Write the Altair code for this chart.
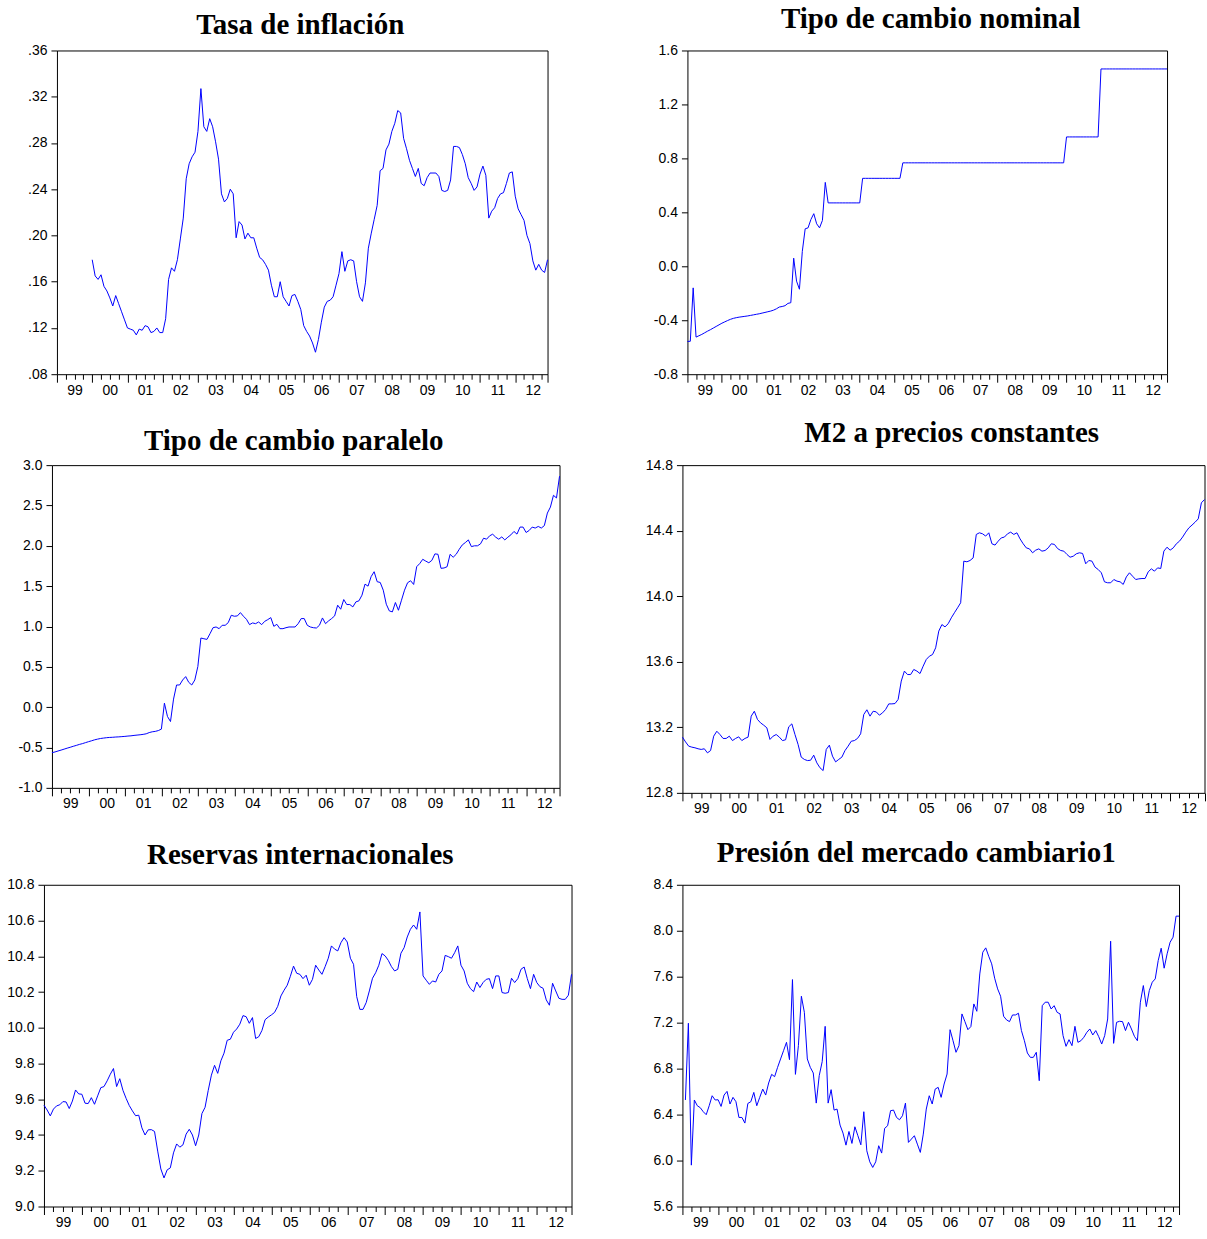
import altair as alt
import pandas as pd

# ---------------------------------------------------------------------------
# Monthly series (Jan 1999 = month 0, Dec 2012 = month 167)
# ---------------------------------------------------------------------------
FIRST_YEAR = 1999
N_MONTHS = 168
X_END = FIRST_YEAR + (N_MONTHS - 1) / 12

# Tasa de inflación, Jan 2000 - Dec 2012
inflacion = [
    0.179, 0.165, 0.162, 0.166, 0.156, 0.152, 0.146, 0.139, 0.148, 0.141, 0.134, 0.127,
    0.120, 0.119, 0.118, 0.114, 0.119, 0.118, 0.122, 0.121, 0.116, 0.117, 0.120, 0.116,
    0.116, 0.128, 0.162, 0.172, 0.169, 0.179, 0.197, 0.215, 0.249, 0.262, 0.268, 0.272,
    0.290, 0.327, 0.294, 0.290, 0.301, 0.294, 0.281, 0.266, 0.236, 0.229, 0.232, 0.240,
    0.236, 0.198, 0.212, 0.209, 0.197, 0.202, 0.198, 0.198, 0.189, 0.181, 0.179, 0.175,
    0.170, 0.157, 0.147, 0.147, 0.160, 0.147, 0.143, 0.139, 0.148, 0.149, 0.143, 0.136,
    0.122, 0.117, 0.113, 0.107, 0.099, 0.110, 0.125, 0.138, 0.143, 0.144, 0.147, 0.157,
    0.167, 0.186, 0.169, 0.178, 0.179, 0.178, 0.160, 0.147, 0.143, 0.159, 0.189, 0.202,
    0.214, 0.226, 0.256, 0.258, 0.274, 0.279, 0.290, 0.297, 0.308, 0.306, 0.284, 0.275,
    0.265, 0.258, 0.251, 0.258, 0.245, 0.243, 0.250, 0.254, 0.254, 0.254, 0.251, 0.239,
    0.238, 0.239, 0.248, 0.277, 0.277, 0.276, 0.270, 0.262, 0.250, 0.245, 0.239, 0.242,
    0.253, 0.260, 0.252, 0.215, 0.221, 0.224, 0.232, 0.236, 0.237, 0.245, 0.254, 0.255,
    0.234, 0.223, 0.218, 0.213, 0.200, 0.193, 0.178, 0.170, 0.175, 0.170, 0.168, 0.179,
]

# Tipo de cambio nominal (log), Jan 1999 - Dec 2012
nominal = [
    -0.557, -0.556, -0.160, -0.525, -0.515, -0.505, -0.493, -0.481, -0.470, -0.458, -0.446, -0.434,
    -0.422, -0.412, -0.402, -0.393, -0.386, -0.381, -0.377, -0.374, -0.371, -0.368, -0.364, -0.360,
    -0.356, -0.352, -0.347, -0.342, -0.337, -0.332, -0.325, -0.315, -0.302, -0.298, -0.292, -0.275,
    -0.270, 0.060, -0.110, -0.170, 0.110, 0.278, 0.285, 0.347, 0.390, 0.315, 0.285, 0.340,
    0.622, 0.470, 0.470, 0.470, 0.470, 0.470, 0.470, 0.470, 0.470, 0.470, 0.470, 0.470,
    0.470, 0.652, 0.652, 0.652, 0.652, 0.652, 0.652, 0.652, 0.652, 0.652, 0.652, 0.652,
    0.652, 0.652, 0.652, 0.767, 0.767, 0.767, 0.767, 0.767, 0.767, 0.767, 0.767, 0.767,
    0.767, 0.767, 0.767, 0.767, 0.767, 0.767, 0.767, 0.767, 0.767, 0.767, 0.767, 0.767,
    0.767, 0.767, 0.767, 0.767, 0.767, 0.767, 0.767, 0.767, 0.767, 0.767, 0.767, 0.767,
    0.767, 0.767, 0.767, 0.767, 0.767, 0.767, 0.767, 0.767, 0.767, 0.767, 0.767, 0.767,
    0.767, 0.767, 0.767, 0.767, 0.767, 0.767, 0.767, 0.767, 0.767, 0.767, 0.767, 0.767,
    0.959, 0.959, 0.959, 0.959, 0.959, 0.959, 0.959, 0.959, 0.959, 0.959, 0.959, 0.959,
    1.463, 1.463, 1.463, 1.463, 1.463, 1.463, 1.463, 1.463, 1.463, 1.463, 1.463, 1.463,
    1.463, 1.463, 1.463, 1.463, 1.463, 1.463, 1.463, 1.463, 1.463, 1.463, 1.463, 1.463,
]

# Tipo de cambio paralelo (log), Jan 1999 - Dec 2012
paralelo = [
    -0.564, -0.555, -0.543, -0.532, -0.520, -0.508, -0.497, -0.485, -0.474, -0.462, -0.452, -0.440,
    -0.428, -0.417, -0.405, -0.396, -0.388, -0.383, -0.378, -0.375, -0.373, -0.370, -0.368, -0.365,
    -0.362, -0.358, -0.355, -0.350, -0.346, -0.342, -0.337, -0.330, -0.315, -0.305, -0.300, -0.290,
    -0.272, 0.050, -0.115, -0.178, 0.100, 0.275, 0.275, 0.337, 0.379, 0.308, 0.275, 0.337,
    0.504, 0.857, 0.848, 0.840, 0.911, 0.985, 0.994, 0.973, 1.015, 1.015, 1.048, 1.139,
    1.127, 1.131, 1.172, 1.127, 1.089, 1.023, 1.044, 1.035, 1.056, 1.023, 1.064, 1.085,
    1.110, 1.002, 1.027, 0.973, 0.973, 0.985, 0.994, 0.994, 0.994, 1.035, 1.098, 1.098,
    1.015, 0.994, 0.985, 0.981, 1.015, 1.106, 1.035, 1.069, 1.098, 1.131, 1.264, 1.214,
    1.334, 1.272, 1.272, 1.243, 1.305, 1.318, 1.388, 1.525, 1.500, 1.617, 1.679, 1.555,
    1.546, 1.450, 1.276, 1.193, 1.181, 1.297, 1.201, 1.326, 1.450, 1.542, 1.567, 1.521,
    1.741, 1.780, 1.833, 1.810, 1.790, 1.820, 1.900, 1.895, 1.721, 1.725, 1.741, 1.895,
    1.858, 1.895, 1.957, 2.011, 2.040, 2.073, 1.990, 2.000, 2.000, 2.024, 2.094, 2.082,
    2.124, 2.144, 2.107, 2.082, 2.110, 2.073, 2.107, 2.136, 2.178, 2.145, 2.232, 2.232,
    2.165, 2.190, 2.232, 2.220, 2.240, 2.220, 2.250, 2.406, 2.480, 2.626, 2.593, 2.863,
]

# M2 a precios constantes (log), Jan 1999 - Dec 2012
m2_real = [
    13.140, 13.111, 13.085, 13.079, 13.075, 13.069, 13.065, 13.069, 13.044, 13.058, 13.146, 13.176,
    13.156, 13.132, 13.132, 13.146, 13.119, 13.132, 13.142, 13.119, 13.132, 13.140, 13.268, 13.298,
    13.248, 13.227, 13.213, 13.197, 13.126, 13.146, 13.156, 13.140, 13.119, 13.124, 13.203, 13.221,
    13.156, 13.095, 13.018, 13.004, 12.997, 12.999, 13.030, 12.983, 12.953, 12.936, 13.065, 13.091,
    13.024, 12.989, 13.004, 13.018, 13.058, 13.085, 13.115, 13.119, 13.132, 13.160, 13.278, 13.307,
    13.268, 13.298, 13.294, 13.274, 13.288, 13.309, 13.343, 13.343, 13.345, 13.370, 13.482, 13.543,
    13.522, 13.522, 13.553, 13.543, 13.528, 13.573, 13.614, 13.634, 13.644, 13.685, 13.787, 13.827,
    13.813, 13.832, 13.868, 13.899, 13.929, 13.960, 14.214, 14.210, 14.218, 14.234, 14.377, 14.387,
    14.381, 14.367, 14.387, 14.320, 14.312, 14.336, 14.356, 14.361, 14.381, 14.391, 14.377, 14.387,
    14.350, 14.320, 14.295, 14.289, 14.265, 14.281, 14.289, 14.275, 14.279, 14.295, 14.320, 14.316,
    14.291, 14.279, 14.275, 14.255, 14.238, 14.244, 14.259, 14.265, 14.261, 14.198, 14.218, 14.214,
    14.177, 14.163, 14.143, 14.088, 14.082, 14.082, 14.102, 14.092, 14.088, 14.072, 14.118, 14.143,
    14.122, 14.102, 14.106, 14.108, 14.108, 14.149, 14.167, 14.153, 14.173, 14.169, 14.275, 14.299,
    14.281, 14.295, 14.320, 14.336, 14.361, 14.391, 14.417, 14.434, 14.452, 14.472, 14.570, 14.590,
]

# Reservas internacionales (log), Jan 1999 - Dec 2012
reservas = [
    9.567, 9.540, 9.507, 9.545, 9.563, 9.569, 9.587, 9.585, 9.548, 9.590, 9.652, 9.630,
    9.628, 9.578, 9.576, 9.609, 9.572, 9.619, 9.665, 9.671, 9.703, 9.740, 9.772, 9.671,
    9.715, 9.650, 9.605, 9.565, 9.535, 9.508, 9.511, 9.440, 9.400, 9.429, 9.430, 9.420,
    9.310, 9.210, 9.160, 9.205, 9.216, 9.300, 9.350, 9.332, 9.345, 9.405, 9.432, 9.400,
    9.340, 9.400, 9.520, 9.555, 9.650, 9.735, 9.790, 9.745, 9.815, 9.858, 9.930, 9.936,
    9.975, 9.993, 10.020, 10.068, 10.062, 10.025, 10.057, 9.940, 9.950, 9.985, 10.045, 10.060,
    10.072, 10.086, 10.120, 10.178, 10.210, 10.238, 10.288, 10.345, 10.305, 10.299, 10.275, 10.294,
    10.238, 10.271, 10.350, 10.323, 10.299, 10.342, 10.389, 10.458, 10.440, 10.430, 10.476, 10.504,
    10.480, 10.389, 10.355, 10.174, 10.103, 10.103, 10.141, 10.206, 10.277, 10.308, 10.350, 10.415,
    10.402, 10.377, 10.342, 10.318, 10.327, 10.417, 10.448, 10.508, 10.551, 10.575, 10.551, 10.648,
    10.290, 10.266, 10.243, 10.262, 10.256, 10.299, 10.318, 10.405, 10.398, 10.389, 10.420, 10.458,
    10.350, 10.318, 10.249, 10.219, 10.202, 10.256, 10.225, 10.253, 10.271, 10.275, 10.219, 10.290,
    10.290, 10.197, 10.193, 10.197, 10.277, 10.253, 10.275, 10.327, 10.340, 10.275, 10.219, 10.299,
    10.253, 10.230, 10.221, 10.156, 10.126, 10.249, 10.206, 10.165, 10.159, 10.159, 10.182, 10.299,
]

# Presión del mercado cambiario, Feb 1999 - Dec 2012
presion = [
    6.527, 7.195, 5.960, 6.527, 6.477, 6.460, 6.425, 6.399, 6.477, 6.564, 6.527,
    6.529, 6.471, 6.570, 6.602, 6.492, 6.550, 6.512, 6.375, 6.375, 6.326, 6.497, 6.512,
    6.593, 6.477, 6.550, 6.622, 6.570, 6.675, 6.750, 6.730, 6.811, 6.884, 6.956, 7.029,
    6.878, 7.575, 6.750, 7.000, 7.430, 7.290, 6.884, 6.811, 6.762, 6.500, 6.739, 6.861,
    7.168, 6.500, 6.617, 6.439, 6.448, 6.309, 6.239, 6.134, 6.253, 6.149, 6.294, 6.216,
    6.137, 6.425, 6.085, 5.989, 5.940, 5.989, 6.129, 6.065, 6.280, 6.303, 6.434, 6.439,
    6.375, 6.355, 6.390, 6.500, 6.158, 6.187, 6.216, 6.143, 6.071, 6.230, 6.448, 6.564,
    6.492, 6.622, 6.637, 6.550, 6.666, 6.753, 7.139, 7.043, 6.942, 7.000, 7.276, 7.209,
    7.139, 7.166, 7.363, 7.299, 7.624, 7.813, 7.851, 7.778, 7.712, 7.587, 7.494, 7.430,
    7.256, 7.224, 7.209, 7.267, 7.267, 7.282, 7.131, 7.043, 6.936, 6.898, 6.898, 6.942,
    6.695, 7.348, 7.378, 7.378, 7.319, 7.348, 7.290, 7.276, 7.087, 6.994, 7.052, 7.000,
    7.168, 7.029, 7.043, 7.073, 7.116, 7.145, 7.093, 7.131, 7.078, 7.014, 7.087, 7.232,
    7.909, 7.020, 7.203, 7.212, 7.209, 7.131, 7.203, 7.145, 7.081, 7.043, 7.378, 7.523,
    7.340, 7.479, 7.552, 7.581, 7.741, 7.848, 7.674, 7.799, 7.900, 7.944, 8.127, 8.127,
]

# Y-axis tick labels of every panel
ticks_inflacion = [0.08, 0.12, 0.16, 0.20, 0.24, 0.28, 0.32, 0.36]
ticks_nominal = [-0.8, -0.4, 0.0, 0.4, 0.8, 1.2, 1.6]
ticks_paralelo = [-1.0, -0.5, 0.0, 0.5, 1.0, 1.5, 2.0, 2.5, 3.0]
ticks_m2 = [12.8, 13.2, 13.6, 14.0, 14.4, 14.8]
ticks_reservas = [9.0, 9.2, 9.4, 9.6, 9.8, 10.0, 10.2, 10.4, 10.6, 10.8]
ticks_presion = [5.6, 6.0, 6.4, 6.8, 7.2, 7.6, 8.0, 8.4]

# Time axis: quarterly ticks (plus the closing one) and a year label in the
# middle of every year
QUARTERS = [FIRST_YEAR + q / 4 for q in range(56)] + [X_END]
MID_YEARS = [FIRST_YEAR + k + 0.5 for k in range(14)]

LINE_BLUE = "#0000FF"
SANS = "Liberation Sans, Arial, sans-serif"
SERIF = "Liberation Serif, Times New Roman, serif"
ONE_ROW = pd.DataFrame({"k": [0]})

LEFT_GUTTER = 40      # room kept for the y labels of the left-hand panels
LEFT_CELL_END = 597.8  # page x where the left-hand cells stop
MID_LINE = 600        # page x where the right-hand cells start
RIGHT_CELL_END = 1204
TOP_CELL = 6          # top of the first row of cells
ROW1_END, ROW2_END, ROW3_END = 412.4, 831.5, 1238


def monthly_frame(values, first_month):
    return pd.DataFrame({
        "t": [FIRST_YEAR + (first_month + i) / 12 for i in range(len(values))],
        "v": values,
    })


def panel(title, values, first_month, yticks, yfmt, strip_zero,
          left, top, width, height, cell, title_x, title_base):
    """One EViews-style panel; page positions are turned into offsets from
    the panel's plot origin."""
    df = monthly_frame(values, first_month)
    if strip_zero:
        ylab = f"replace(format(datum.value, '{yfmt}'), '0.', '.')"
    else:
        ylab = f"replace(format(datum.value, '{yfmt}'), '\u2212', '-')"

    x_scale = alt.Scale(domain=[FIRST_YEAR, X_END], nice=False, zero=False)
    y_enc = alt.Y(
        "v:Q",
        title=None,
        scale=alt.Scale(domain=[yticks[0], yticks[-1]], nice=False, zero=False),
        axis=alt.Axis(values=yticks, labelExpr=ylab, tickSize=6, labelPadding=4,
                      labelOverlap=False),
    )

    # the series, carrying the tick-only time axis
    line = alt.Chart(df).mark_line(color=LINE_BLUE, strokeWidth=1).encode(
        x=alt.X("t:Q", title=None, scale=x_scale,
                axis=alt.Axis(
                    orient="bottom", values=QUARTERS, labels=False,
                    tickSize={"condition": {"test": "datum.value % 1 === 0 || datum.value > 2012.9",
                                            "value": 8}, "value": 5},
                )),
        y=y_enc,
    )
    # same series, invisible, carrying the year labels
    year_labels = alt.Chart(df).mark_line(strokeOpacity=0).encode(
        x=alt.X("t:Q", title=None, scale=x_scale,
                axis=alt.Axis(
                    orient="bottom", values=MID_YEARS, ticks=False,
                    labelExpr="slice(toString(100 + floor(datum.value) % 100), 1)",
                    labelFlush=False, labelOverlap=False, labelPadding=9,
                )),
        y=y_enc,
    )

    heading = alt.Chart(ONE_ROW).mark_text(
        font=SERIF, fontSize=29, fontWeight="bold", color="black",
        align="center", baseline="alphabetic",
    ).encode(
        x=alt.value(title_x - left), y=alt.value(title_base - top), text=alt.value(title),
    )

    # invisible diagonal that reserves this panel's cell on the page
    cell_box = alt.Chart(ONE_ROW).mark_rule(opacity=0).encode(
        x=alt.value(cell[0] - left), x2=alt.value(cell[2] - left),
        y=alt.value(cell[1] - top), y2=alt.value(cell[3] - top),
    )

    return (
        alt.layer(line, year_labels, heading, cell_box)
        .resolve_axis(x="independent")
        .properties(width=width, height=height)
    )


def indent(width):
    """Empty, frameless strip that pushes a row's first panel to the right."""
    return (
        alt.Chart(ONE_ROW)
        .mark_point(opacity=0, size=1)
        .encode(x=alt.value(0), y=alt.value(0))
        .properties(width=width, height=1, view=alt.ViewBackground(strokeOpacity=0))
    )


# (left, top) of every plot area on the page
p1 = panel("Tasa de inflación", inflacion, 12, ticks_inflacion, ".2f", True,
           57, 52, 491, 324, (57 - LEFT_GUTTER, TOP_CELL, LEFT_CELL_END, ROW1_END), 300.5, 36)
p2 = panel("Tipo de cambio nominal", nominal, 0, ticks_nominal, ".1f", False,
           688, 52, 480, 324, (MID_LINE, TOP_CELL, RIGHT_CELL_END, ROW1_END), 931.5, 30)
p3 = panel("Tipo de cambio paralelo", paralelo, 0, ticks_paralelo, ".1f", False,
           52, 468, 508, 323, (52 - LEFT_GUTTER, 415, LEFT_CELL_END, ROW2_END), 294, 453)
p4 = panel("M2 a precios constantes", m2_real, 0, ticks_m2, ".1f", False,
           683, 468, 522.5, 328, (MID_LINE, 415, RIGHT_CELL_END, ROW2_END), 952.5, 445)
p5 = panel("Reservas internacionales", reservas, 0, ticks_reservas, ".1f", False,
           44, 890, 528, 322, (44 - LEFT_GUTTER, 835, LEFT_CELL_END, ROW3_END), 300.5, 869)
p6 = panel("Presión del mercado cambiario1", presion, 1, ticks_presion, ".1f", False,
           683, 890, 497, 322, (MID_LINE, 835, RIGHT_CELL_END, ROW3_END), 917, 867)

# each row: indent, left panel, right panel; rows stacked one under the other
rows = [
    alt.concat(indent(lft - LEFT_GUTTER - 2), a, b, columns=3, spacing=0)
    for lft, a, b in ((57, p1, p2), (52, p3, p4), (44, p5, p6))
]

chart = (
    alt.concat(*rows, columns=1, spacing=0)
    .properties(padding={"top": 3, "bottom": 0, "left": 0, "right": 0}, background="white")
    .configure_view(stroke="black", strokeWidth=1)
    .configure_axis(
        grid=False,
        domain=False,
        labelFont=SANS,
        labelFontSize=14,
        labelColor="black",
        tickColor="black",
        tickWidth=1,
    )
)

chart.save("out.html", embed_options={"renderer": "svg", "actions": False})
